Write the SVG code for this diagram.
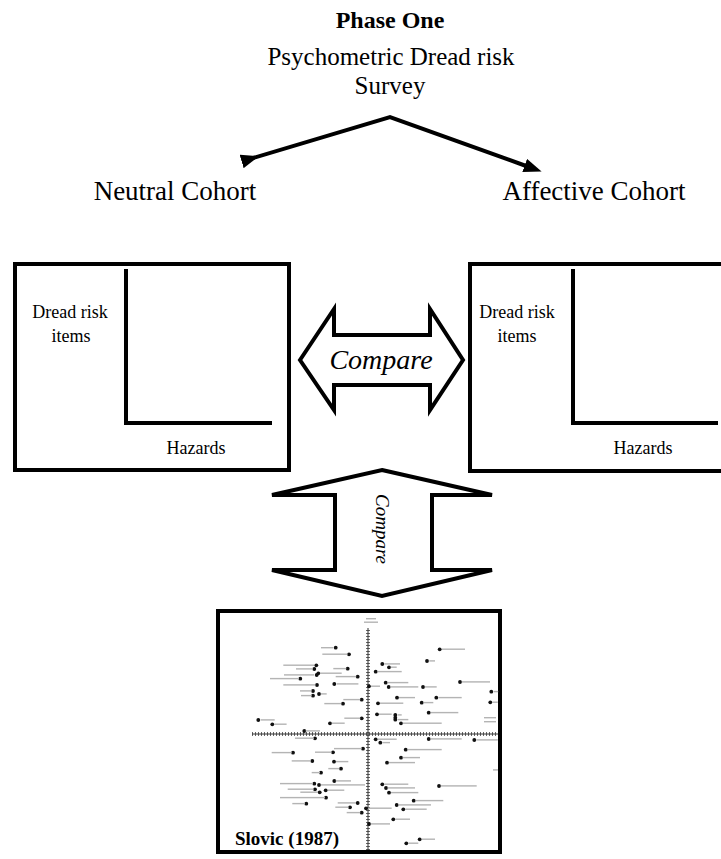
<svg xmlns="http://www.w3.org/2000/svg" width="721" height="859" viewBox="0 0 721 859">
<defs>
<style>
.serif{font-family:"Liberation Serif","Times New Roman",serif;fill:#000}
.big{font-size:27px}
.mid{font-size:25px}
.small{font-size:18px}
.box{fill:#fff;stroke:#000;stroke-width:4}
.axis{fill:none;stroke:#000;stroke-width:4}
.conn{fill:none;stroke:#000;stroke-width:4}
.fat{fill:#fff;stroke:#000;stroke-width:4;stroke-linejoin:miter}
.dot{fill:#111}
.lbl{fill:#b4b4b4}
.pax{stroke:#333;stroke-width:1}
.tick{stroke:#666;stroke-width:4;stroke-dasharray:1 2}
</style>
<marker id="ah" markerUnits="userSpaceOnUse" markerWidth="18" markerHeight="14" viewBox="0 0 18 14" refX="3" refY="7" orient="auto">
<path d="M0,0 L18,7 L0,14 z" fill="#000"/>
</marker>
</defs>
<rect width="721" height="859" fill="#fff"/>

<g id="title">
<text class="serif" x="390" y="28" font-size="24" text-anchor="middle" font-weight="bold">Phase One</text>
</g>
<g id="survey">
<text class="serif mid" x="391" y="65" text-anchor="middle">Psychometric Dread risk</text>
<text class="serif mid" x="390" y="94" text-anchor="middle">Survey</text>
</g>
<g id="neutral">
<text class="serif big" x="175" y="200" text-anchor="middle">Neutral Cohort</text>
</g>
<g id="affective">
<text class="serif big" x="594" y="200" text-anchor="middle">Affective Cohort</text>
</g>

<g id="connectors">
<polyline class="conn" points="244.5,160.6 390,117 527.5,166.5" marker-start="url(#ah)" marker-end="url(#ah)"/>
</g>

<g id="neutral-chart">
<rect class="box" x="15" y="264" width="274" height="206"/>
<polyline class="axis" points="126,269 126,423 272,423"/>
<text class="serif small" x="70" y="318" text-anchor="middle">Dread risk</text>
<text class="serif small" x="71" y="342" text-anchor="middle">items</text>
<text class="serif small" x="196" y="454" text-anchor="middle">Hazards</text>
</g>

<g id="affective-chart">
<rect class="box" x="470" y="264" width="270" height="207"/>
<polyline class="axis" points="573,269 573,423 718,423"/>
<text class="serif small" x="517" y="318" text-anchor="middle">Dread risk</text>
<text class="serif small" x="517" y="342" text-anchor="middle">items</text>
<text class="serif small" x="643" y="454" text-anchor="middle">Hazards</text>
</g>

<g id="compare-horizontal">
<polygon class="fat" points="300,360 334,309 334,335 430,335 430,309 463,360 430,410 430,385 334,385 334,410"/>
<text class="serif" font-size="28" x="381" y="369" text-anchor="middle" font-style="italic">Compare</text>
</g>

<g id="compare-vertical">
<polygon class="fat" points="382,470 492,495 432,495 432,570 492,570 382,596 272,570 335,570 335,495 272,495"/>
<text class="serif" font-size="19" font-style="italic" text-anchor="middle" transform="translate(376,529) rotate(90)">Compare</text>
</g>

<g id="slovic-1987">
<rect x="218" y="611" width="282" height="241" fill="#fff" stroke="#000" stroke-width="4"/>
<line class="tick" x1="252" y1="734" x2="498" y2="734"/>
<line class="pax" x1="252" y1="734" x2="498" y2="734"/>
<line class="tick" x1="368" y1="630" x2="368" y2="850"/>
<line class="pax" x1="368" y1="628" x2="368" y2="850"/>
<rect class="lbl" x="366" y="618" width="10" height="1.4"/>
<rect class="lbl" x="364" y="621.5" width="14" height="1.4"/>
<rect class="lbl" x="484" y="717" width="12" height="1.4"/>
<rect class="lbl" x="484" y="721" width="12" height="1.4"/>
<g class="dot">
<circle cx="335.7" cy="647.7" r="1.9"/><circle cx="349" cy="654.3" r="1.9"/><circle cx="316.3" cy="665.3" r="1.9"/><circle cx="314.3" cy="669" r="1.9"/><circle cx="347.7" cy="668.7" r="1.9"/><circle cx="316.7" cy="675" r="1.9"/><circle cx="318.3" cy="673.3" r="1.9"/><circle cx="357.7" cy="676.7" r="1.9"/><circle cx="300.3" cy="678.7" r="1.9"/><circle cx="317" cy="685" r="1.9"/><circle cx="334.3" cy="684" r="1.9"/><circle cx="313" cy="691" r="1.9"/><circle cx="313" cy="695.7" r="1.9"/><circle cx="319" cy="694" r="1.9"/><circle cx="361.7" cy="699.7" r="1.9"/><circle cx="343" cy="703.7" r="1.9"/><circle cx="258.3" cy="720" r="1.9"/><circle cx="272.3" cy="724.3" r="1.9"/><circle cx="361.7" cy="718.3" r="1.9"/><circle cx="330" cy="723.3" r="1.9"/><circle cx="304.3" cy="731" r="1.9"/><circle cx="315" cy="738.3" r="1.9"/><circle cx="369" cy="686.3" r="1.9"/><circle cx="382.3" cy="664" r="1.9"/><circle cx="389" cy="667.3" r="1.9"/><circle cx="375.7" cy="671.7" r="1.9"/><circle cx="385.7" cy="682.7" r="1.9"/><circle cx="388.7" cy="687" r="1.9"/><circle cx="423" cy="687" r="1.9"/><circle cx="427" cy="661" r="1.9"/><circle cx="439.7" cy="649.3" r="1.9"/><circle cx="460" cy="682" r="1.9"/><circle cx="491.3" cy="691.7" r="1.9"/><circle cx="490.3" cy="702.3" r="1.9"/><circle cx="397" cy="697.7" r="1.9"/><circle cx="378" cy="703.3" r="1.9"/><circle cx="421.7" cy="702.7" r="1.9"/><circle cx="436.3" cy="697.7" r="1.9"/><circle cx="428.7" cy="712.7" r="1.9"/><circle cx="377" cy="714.3" r="1.9"/><circle cx="395.3" cy="715" r="1.9"/><circle cx="395.3" cy="717.7" r="1.9"/><circle cx="395.3" cy="719.7" r="1.9"/><circle cx="401" cy="723.3" r="1.9"/><circle cx="375.7" cy="739.3" r="1.9"/><circle cx="380.3" cy="742.7" r="1.9"/><circle cx="428.7" cy="739" r="1.9"/><circle cx="474.3" cy="740" r="1.9"/><circle cx="363" cy="748.7" r="1.9"/><circle cx="293" cy="752.7" r="1.9"/><circle cx="333" cy="752.3" r="1.9"/><circle cx="312.3" cy="761" r="1.9"/><circle cx="334" cy="761.7" r="1.9"/><circle cx="405.7" cy="749.7" r="1.9"/><circle cx="401" cy="757.7" r="1.9"/><circle cx="387" cy="762.7" r="1.9"/><circle cx="341" cy="768.7" r="1.9"/><circle cx="321" cy="772.7" r="1.9"/><circle cx="334.3" cy="781" r="1.9"/><circle cx="314.3" cy="783.7" r="1.9"/><circle cx="319" cy="785" r="1.9"/><circle cx="315" cy="789.3" r="1.9"/><circle cx="319.7" cy="792.3" r="1.9"/><circle cx="325.7" cy="790.3" r="1.9"/><circle cx="326" cy="797.7" r="1.9"/><circle cx="306.3" cy="803.7" r="1.9"/><circle cx="357.7" cy="803" r="1.9"/><circle cx="350" cy="807.3" r="1.9"/><circle cx="361.7" cy="812.7" r="1.9"/><circle cx="366" cy="808.3" r="1.9"/><circle cx="382.3" cy="784.3" r="1.9"/><circle cx="386" cy="788" r="1.9"/><circle cx="389" cy="792.7" r="1.9"/><circle cx="439" cy="786" r="1.9"/><circle cx="413.7" cy="800.7" r="1.9"/><circle cx="396.7" cy="805" r="1.9"/><circle cx="403.3" cy="809.3" r="1.9"/><circle cx="393.3" cy="819.3" r="1.9"/><circle cx="369" cy="824" r="1.9"/><circle cx="419.7" cy="839.3" r="1.9"/><circle cx="406.3" cy="843.3" r="1.9"/>
</g>
<g class="lbl">
<rect x="321" y="647" width="12.3" height="1.4"/><rect x="322.3" y="653.5" width="25.3" height="1.4"/><rect x="283.3" y="664.5" width="31" height="1.4"/><rect x="296" y="668.2" width="17" height="1.4"/><rect x="333.3" y="667.9" width="13" height="1.4"/><rect x="284" y="674.2" width="30" height="1.4"/><rect x="320" y="672.5" width="21.7" height="1.4"/><rect x="335.7" y="675.9" width="20.5" height="1.4"/><rect x="270" y="677.9" width="29" height="1.4"/><rect x="283.3" y="684.2" width="32" height="1.4"/><rect x="336.7" y="683.2" width="21.7" height="1.4"/><rect x="300" y="690.2" width="11.7" height="1.4"/><rect x="301" y="694.9" width="10.7" height="1.4"/><rect x="321" y="693.2" width="5.7" height="1.4"/><rect x="343.3" y="698.9" width="17" height="1.4"/><rect x="324.3" y="702.9" width="17" height="1.4"/><rect x="260.7" y="719.2" width="14" height="1.4"/><rect x="274.3" y="723.5" width="12.3" height="1.4"/><rect x="344.3" y="717.5" width="16" height="1.4"/><rect x="331.7" y="722.5" width="13" height="1.4"/><rect x="305.7" y="730.2" width="14.3" height="1.4"/><rect x="295" y="737.5" width="19" height="1.4"/><rect x="371" y="685.5" width="9" height="1.4"/><rect x="384.3" y="663.2" width="15.7" height="1.4"/><rect x="390.7" y="666.5" width="6" height="1.4"/><rect x="377.7" y="670.9" width="24" height="1.4"/><rect x="387.7" y="681.9" width="20.6" height="1.4"/><rect x="390.7" y="686.2" width="27.6" height="1.4"/><rect x="425" y="686.2" width="11.7" height="1.4"/><rect x="429.3" y="660.2" width="5.7" height="1.4"/><rect x="442" y="648.5" width="23" height="1.4"/><rect x="462" y="681.2" width="28" height="1.4"/><rect x="493.7" y="690.9" width="4.5" height="1.4"/><rect x="492.3" y="701.5" width="5.5" height="1.4"/><rect x="399" y="696.9" width="16" height="1.4"/><rect x="380" y="702.5" width="23.3" height="1.4"/><rect x="423.7" y="701.9" width="9.6" height="1.4"/><rect x="438.3" y="696.9" width="23.4" height="1.4"/><rect x="431" y="711.9" width="27.3" height="1.4"/><rect x="379" y="713.5" width="12.7" height="1.4"/><rect x="397.7" y="714.2" width="4" height="1.4"/><rect x="397.7" y="718.9" width="10.6" height="1.4"/><rect x="402.7" y="722.5" width="39" height="1.4"/><rect x="377.7" y="738.5" width="19" height="1.4"/><rect x="382.3" y="741.9" width="7.7" height="1.4"/><rect x="431" y="738.2" width="30.7" height="1.4"/><rect x="476.3" y="739.2" width="21.5" height="1.4"/><rect x="334" y="747.9" width="27.7" height="1.4"/><rect x="271.7" y="751.9" width="20" height="1.4"/><rect x="315" y="751.5" width="16.7" height="1.4"/><rect x="291.7" y="760.2" width="19.3" height="1.4"/><rect x="336" y="760.9" width="12.3" height="1.4"/><rect x="407.7" y="748.9" width="34" height="1.4"/><rect x="402.7" y="756.9" width="17.3" height="1.4"/><rect x="389" y="761.9" width="26" height="1.4"/><rect x="328.3" y="767.9" width="11" height="1.4"/><rect x="311.7" y="771.9" width="8.3" height="1.4"/><rect x="335.7" y="780.2" width="15.3" height="1.4"/><rect x="280" y="782.9" width="33" height="1.4"/><rect x="321" y="784.2" width="44" height="1.4"/><rect x="287.7" y="788.5" width="26" height="1.4"/><rect x="300.3" y="791.5" width="17.7" height="1.4"/><rect x="327.7" y="789.5" width="16.6" height="1.4"/><rect x="280" y="796.9" width="45" height="1.4"/><rect x="292.3" y="802.9" width="12.7" height="1.4"/><rect x="337.7" y="802.2" width="18.3" height="1.4"/><rect x="335.3" y="806.5" width="13.4" height="1.4"/><rect x="346.7" y="811.9" width="13.6" height="1.4"/><rect x="368.3" y="807.5" width="23.4" height="1.4"/><rect x="384.3" y="783.5" width="24" height="1.4"/><rect x="387.7" y="787.2" width="27.3" height="1.4"/><rect x="391" y="791.9" width="27.3" height="1.4"/><rect x="441" y="785.2" width="35.7" height="1.4"/><rect x="415.7" y="799.9" width="27.6" height="1.4"/><rect x="398.7" y="804.2" width="32.3" height="1.4"/><rect x="405.3" y="808.5" width="21.4" height="1.4"/><rect x="395.3" y="818.5" width="14.7" height="1.4"/><rect x="371" y="823.2" width="19" height="1.4"/><rect x="421.7" y="838.5" width="13.3" height="1.4"/><rect x="408.3" y="842.5" width="10" height="1.4"/><rect x="493" y="769.2" width="5" height="1.4"/>
</g>
<text class="serif" x="235" y="845" font-size="19" font-weight="bold">Slovic (1987)</text>
</g>
</svg>
